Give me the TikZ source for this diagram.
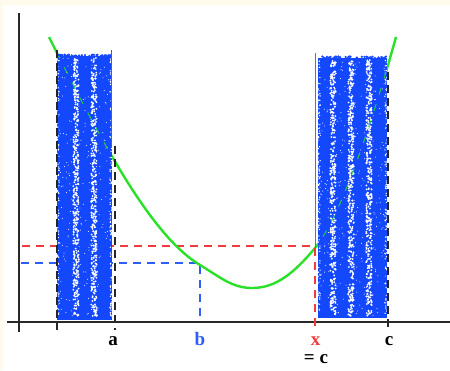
\documentclass[tikz,border=0pt]{standalone}
\usepackage{fontspec}
\setmainfont{Liberation Serif}
\definecolor{blk}{RGB}{20,72,255}
\definecolor{grn}{RGB}{40,225,40}
\definecolor{rd}{RGB}{240,60,60}
\definecolor{bl}{RGB}{45,95,245}
\definecolor{cream}{RGB}{255,250,235}
\definecolor{axis}{RGB}{40,40,40}
\newcommand\greencurve{(49,37) .. controls (99,137) and (150,235) .. (200,265) .. controls (220,277) and (232,288) .. (252,288) .. controls (275,288) and (293,274.4) .. (315,248) .. controls (345,212) and (381,91) .. (396,37)}
\begin{document}
\begin{tikzpicture}[x=1pt,y=-1pt,
  blkdash/.style={black!85, line width=1.3pt, dash pattern=on 8pt off 5pt},
  rddash/.style={rd, line width=1.1pt, dash pattern=on 8pt off 6pt},
  bldash/.style={bl, line width=1.1pt, dash pattern=on 8pt off 6pt},
  lbl/.style={font=\fontsize{19}{21}\selectfont\bfseries, inner sep=0pt, anchor=base},
  axisline/.style={axis, line width=1.4pt},
  speck/.style={white}]
\fill[cream] (0,0) rectangle (450,370);
\fill[white] (3,5) rectangle (450,370);
\useasboundingbox (0,0) rectangle (450,370);
% guide lines under blocks
\draw[rddash] (22,246) -- (315,246);
\draw[bldash] (21,263) -- (200,263) -- (200,322);
\draw[grn, line width=2.4pt] \greencurve;
% blocks
\pgfmathsetseed{7}
\fill[blk] (57,56) rectangle (112,320);
\fill[blk] (318,58) rectangle (387,318);
% ragged tops
\foreach \i in {1,...,40} {
  \pgfmathsetmacro\xx{58+53*rnd}
  \fill[blk] (\xx,{56-1.5*rnd}) circle (1.2);
  \pgfmathsetmacro\xx{319+67*rnd}
  \fill[blk] (\xx,{58-1.5*rnd}) circle (1.2);
}
\foreach \s in {76,94} {
  \foreach \i in {1,...,380} {
    \pgfmathsetmacro\xx{\s+2.8*rand}
    \pgfmathsetmacro\yy{58+258*rnd}
    \fill[speck] (\xx,\yy) circle (1.0);
  }
}
\foreach \s in {333,351,369} {
  \foreach \i in {1,...,380} {
    \pgfmathsetmacro\xx{\s+2.8*rand}
    \pgfmathsetmacro\yy{60+256*rnd}
    \fill[speck] (\xx,\yy) circle (1.0);
  }
}
\foreach \s in {58,111} {
  \foreach \i in {1,...,120} {
    \pgfmathsetmacro\xx{\s+1.2*rand}
    \pgfmathsetmacro\yy{58+258*rnd}
    \fill[speck] (\xx,\yy) circle (0.7);
  }
}
\foreach \s in {319,386} {
  \foreach \i in {1,...,120} {
    \pgfmathsetmacro\xx{\s+1.2*rand}
    \pgfmathsetmacro\yy{60+256*rnd}
    \fill[speck] (\xx,\yy) circle (0.7);
  }
}
\foreach \i in {1,...,200} {
  \pgfmathsetmacro\xx{58+53*rnd}
  \pgfmathsetmacro\yy{58+258*rnd}
  \fill[speck] (\xx,\yy) circle (0.5);
}
\foreach \i in {1,...,250} {
  \pgfmathsetmacro\xx{319+67*rnd}
  \pgfmathsetmacro\yy{60+256*rnd}
  \fill[speck] (\xx,\yy) circle (0.5);
}
% green glimpses through blocks
\begin{scope}
  \clip (57,56) rectangle (112,320) (318,58) rectangle (387,318);
  \draw[grn, line width=1.1pt, dash pattern=on 7pt off 10pt, opacity=0.8] \greencurve;
\end{scope}
% axes
\draw[axisline] (19,13) -- (19,332);
\draw[axisline] (7,322) -- (450,322);
% vertical markers
\draw[blkdash] (57,50) -- (57,330);
\draw[blkdash] (115,146) -- (115,330);
\draw[bl, line width=0.8pt] (111,50) -- (111,148);
\draw[rd, line width=0.6pt] (315,53) -- (315,248);
\draw[rddash] (315,248) -- (315,330);
\draw[blkdash] (388,72) -- (388,327);
% labels
\node[lbl] (la) at (113,345) {a};
\node[lbl, text=bl] (lb) at (200,345) {b};
\node[lbl, text=rd] (lx) at (315.5,345) {x};
\node[lbl] (lc) at (389,345) {c};
\node[lbl] (leq) at (316,363) {= c};
\end{tikzpicture}
\end{document}
